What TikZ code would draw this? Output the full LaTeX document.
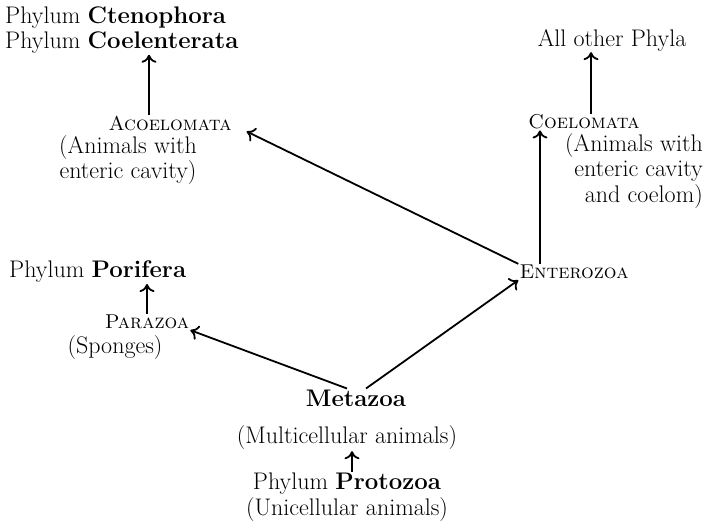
\documentclass[tikz,border=0pt]{standalone}
\usetikzlibrary{arrows.meta}
\begin{document}
\begin{tikzpicture}[x=1pt,y=-1pt,>={To[length=8pt,width=15pt]},
  every node/.style={inner sep=1pt,font=\fontsize{24}{25.5}\selectfont},
  group/.style={font=\fontsize{20}{24}\selectfont\scshape},
  link/.style={arrows=->,line width=1.8pt}]
\useasboundingbox (0,0) rectangle (704,520);
\node[anchor=west,align=left] (cten) at (4,30) {Phylum \textbf{Ctenophora}\\Phylum \textbf{Coelenterata}};
\node[group] (acoel) at (170,123) {Acoelomata};
\node[align=center] (acoeltxt) at (128,160) {(Animals with\\enteric cavity)};
\node (other) at (612,40) {All other Phyla};
\node[group] (coel) at (584,122) {Coelomata};
\node[anchor=east,align=right] (coeltxt) at (704,171) {(Animals with\\enteric cavity\\and coelom)};
\node[group] (entero) at (574,272) {Enterozoa};
\node[anchor=west] (porif) at (8,272) {Phylum \textbf{Porifera}};
\node[group] (para) at (147,322) {Parazoa};
\node (sponges) at (115,348) {(Sponges)};
\node (meta) at (356,398) {\textbf{Metazoa}};
\node (multi) at (347,438) {(Multicellular animals)};
\node[align=center] (proto) at (347,497) {Phylum \textbf{Protozoa}\\(Unicellular animals)};
\draw[link] ([xshift=-21pt]acoel.north) -- ([xshift=-21pt]acoel.north |- cten.south);
\draw[link] ([xshift=7pt]coel.north) -- ([xshift=7pt]coel.north |- other.south);
\draw[link] ([xshift=-34pt]entero.north) -- ([xshift=-34pt]entero.north |- coel.south);
\draw[link] (entero.north west) -- ([xshift=14pt]acoel.south east);
\draw[link] ([xshift=10pt]meta.north) -- (entero.south west);
\draw[link] ([xshift=-9pt]meta.north) -- (para.south east);
\draw[link] (para.north) -- (para.north |- porif.south);
\draw[link] ([xshift=5pt]proto.north) -- ([xshift=5pt]proto.north |- multi.south);
\end{tikzpicture}
\end{document}
